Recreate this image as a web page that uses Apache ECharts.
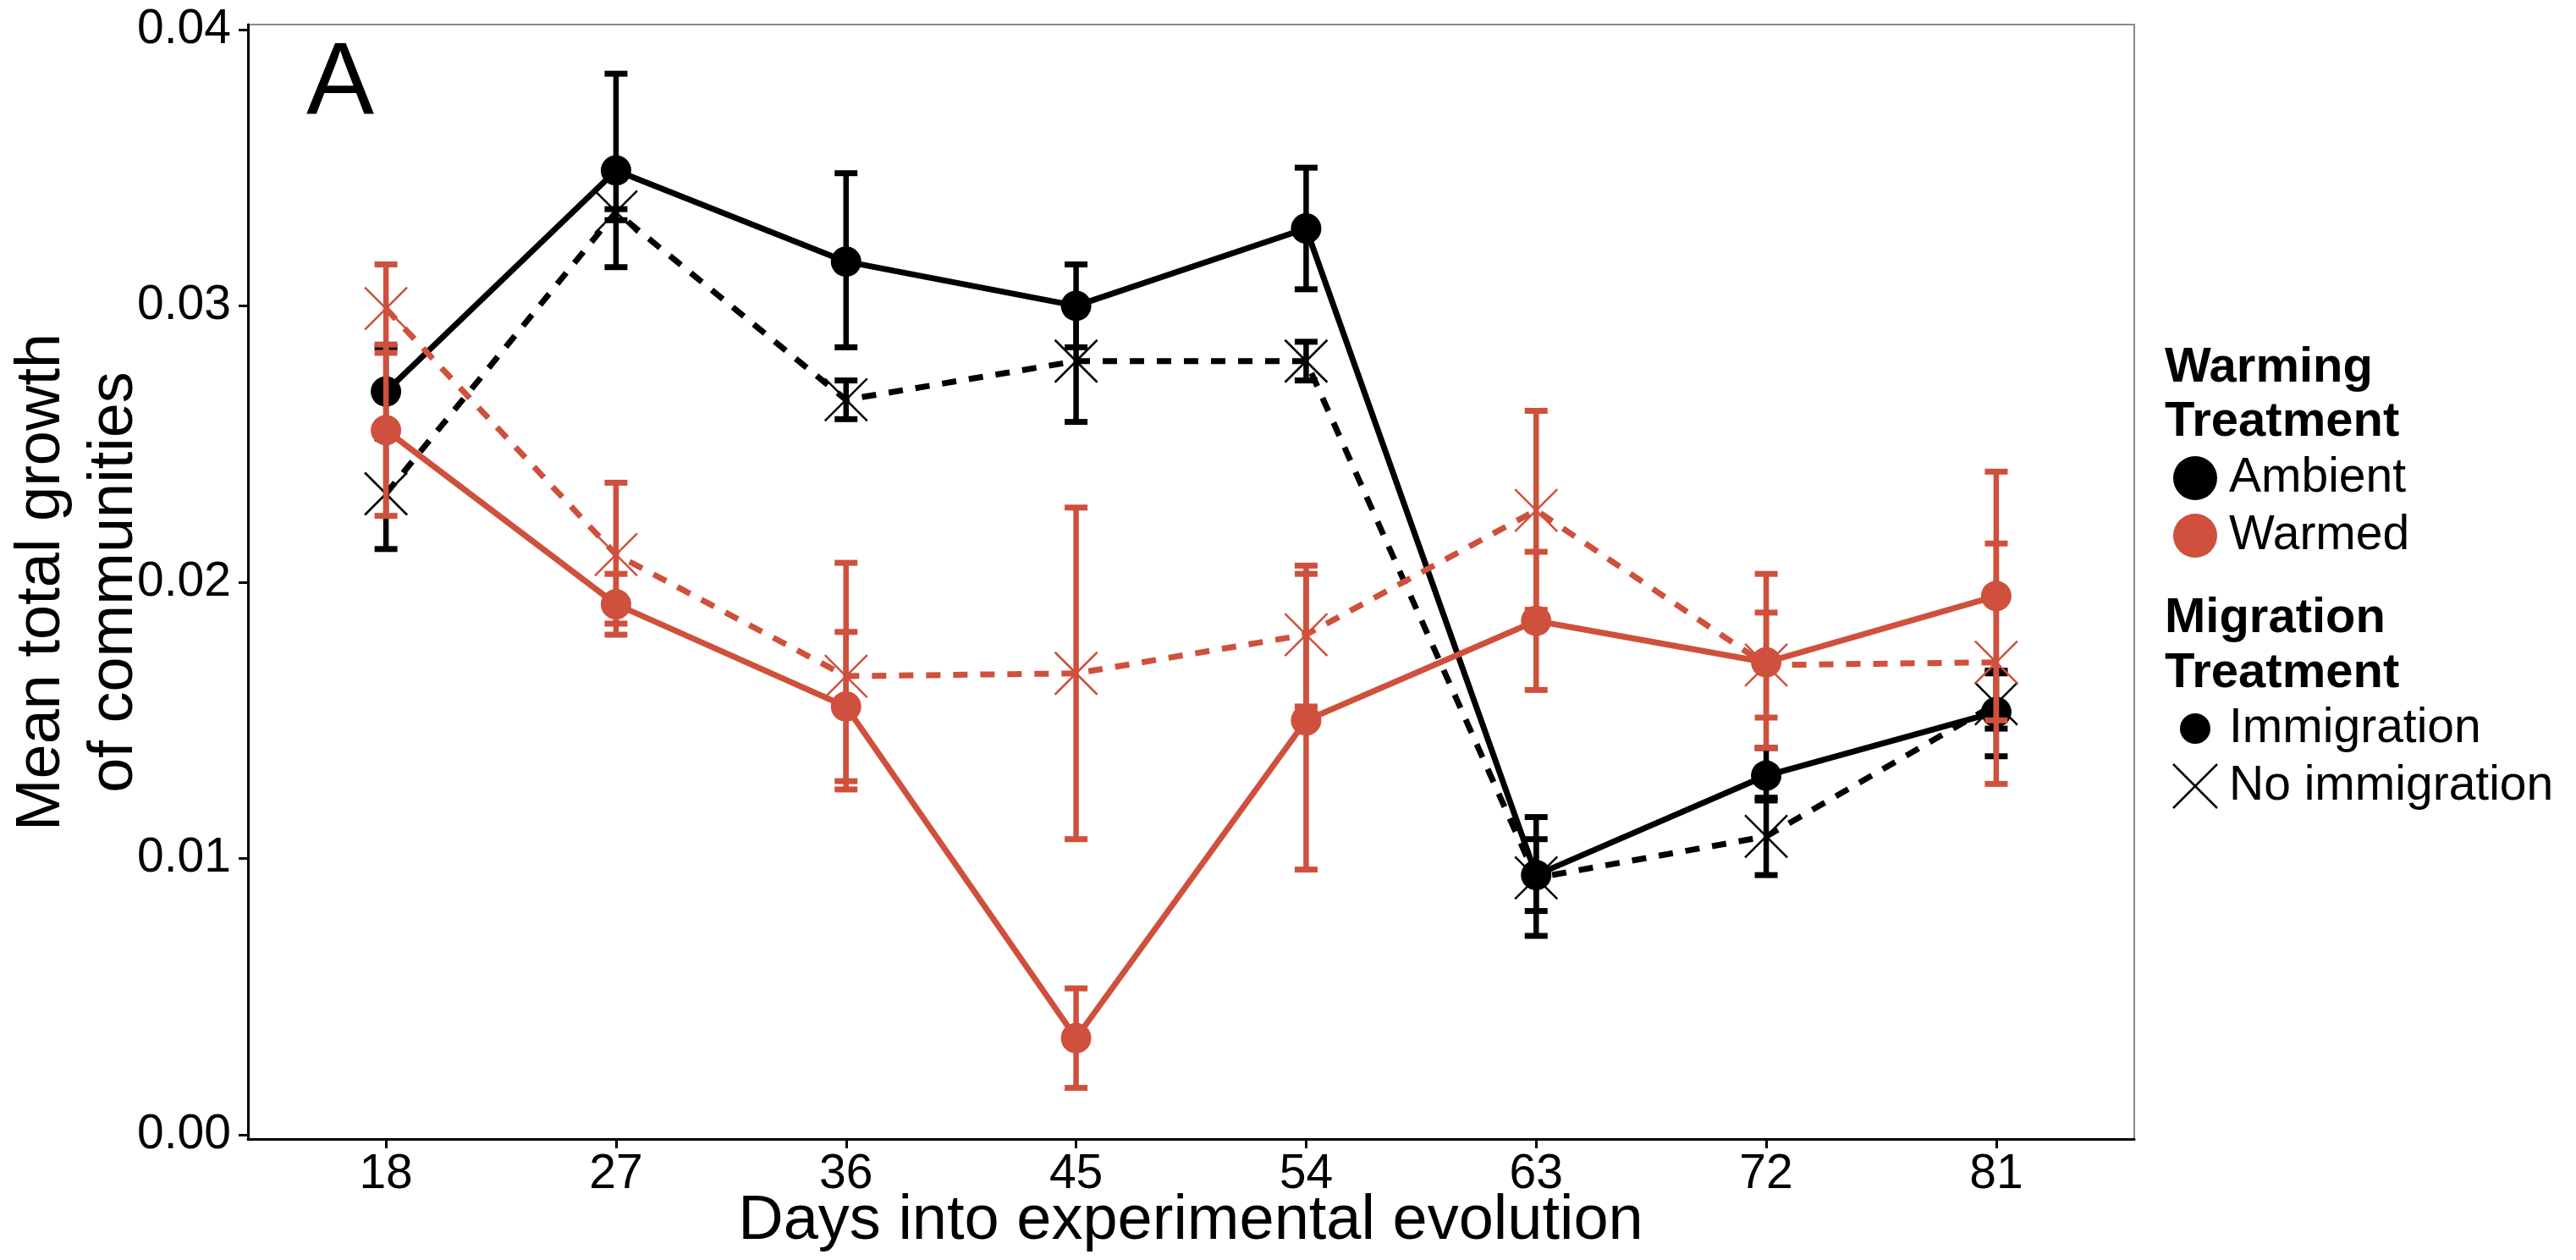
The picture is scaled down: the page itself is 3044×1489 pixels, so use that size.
<!DOCTYPE html>
<html>
<head>
<meta charset="utf-8">
<script src="https://cdn.jsdelivr.net/npm/echarts@6/dist/echarts.min.js"></script>
<style>
  html, body { margin: 0; padding: 0; background: #fff; }
  #chart { width: 3044px; height: 1489px; }
</style>
</head>
<body>
<div id="chart"></div>
<script>
// days on the x axis
const days = [18, 27, 36, 45, 54, 63, 72, 81];
const yTicks = [0, 0.01, 0.02, 0.03, 0.04];

// Ambient, immigration (black, solid, circles)
const ambImm   = [0.0269, 0.0349, 0.0316, 0.0300, 0.0328, 0.0094, 0.0130, 0.0153];
const ambImmLo = [0.0253, 0.0314, 0.0285, 0.0285, 0.0306, 0.0072, 0.0121, 0.0137];
const ambImmHi = [0.0285, 0.0384, 0.0348, 0.0315, 0.0350, 0.0115, 0.0140, 0.0168];
// Ambient, no immigration (black, dashed, crosses)
const ambNo    = [0.0232, 0.0334, 0.0266, 0.0280, 0.0280, 0.0093, 0.0108, 0.0156];
const ambNoLo  = [0.0212, 0.0331, 0.0259, 0.0258, 0.0273, 0.0081, 0.0094, 0.0147];
const ambNoHi  = [0.0252, 0.0335, 0.0273, 0.0302, 0.0287, 0.0107, 0.0122, 0.0167];
// Warmed, immigration (red, solid, circles)
const warmImm   = [0.0255, 0.0192, 0.0155, 0.0035, 0.0150, 0.0186, 0.0171, 0.0195];
const warmImmLo = [0.0224, 0.0181, 0.0128, 0.0017, 0.0096, 0.0161, 0.0151, 0.0150];
const warmImmHi = [0.0286, 0.0203, 0.0182, 0.0053, 0.0203, 0.0211, 0.0189, 0.0240];
// Warmed, no immigration (red, dashed, crosses)
const warmNo    = [0.0299, 0.0210, 0.0166, 0.0167, 0.0181, 0.0226, 0.0170, 0.0171];
const warmNoLo  = [0.0283, 0.0185, 0.0125, 0.0107, 0.0155, 0.0190, 0.0140, 0.0127];
const warmNoHi  = [0.0315, 0.0236, 0.0207, 0.0227, 0.0206, 0.0262, 0.0203, 0.0214];

const BLACK = '#000000';
const RED = '#CF503C';
const FONT = '"Liberation Sans", Arial, sans-serif';

function lineSeries(name, color, vals, dashed, z) {
  return {
    type: 'line', name: name, z: z,
    data: days.map((d, i) => [d, vals[i]]),
    showSymbol: false, symbol: 'none',
    lineStyle: { color: color, width: 7, type: dashed ? [17, 15] : 'solid', cap: 'butt' },
    animation: false
  };
}

function errSeries(name, color, lo, hi, z) {
  return {
    type: 'custom', name: name, z: z,
    data: days.map((d, i) => [d, lo[i], hi[i]]),
    encode: { x: 0, y: [1, 2] },
    renderItem: function (params, api) {
      const x = api.value(0);
      const a = api.coord([x, api.value(1)]);
      const b = api.coord([x, api.value(2)]);
      const w = 13.5;
      const st = { stroke: color, lineWidth: 6.5, lineCap: 'butt' };
      return {
        type: 'group',
        children: [
          { type: 'line', shape: { x1: a[0], y1: a[1], x2: b[0], y2: b[1] }, style: st },
          { type: 'line', shape: { x1: a[0] - w, y1: a[1], x2: a[0] + w, y2: a[1] }, style: { stroke: color, lineWidth: 7 } },
          { type: 'line', shape: { x1: b[0] - w, y1: b[1], x2: b[0] + w, y2: b[1] }, style: { stroke: color, lineWidth: 7 } }
        ]
      };
    },
    animation: false
  };
}

function pointSeries(name, color, vals, cross, z) {
  return {
    type: 'custom', name: name, z: z,
    data: days.map((d, i) => [d, vals[i]]),
    encode: { x: 0, y: 1 },
    renderItem: function (params, api) {
      const p = api.coord([api.value(0), api.value(1)]);
      if (cross) {
        const h = 25;
        const st = { stroke: color, lineWidth: 2.5 };
        return {
          type: 'group',
          children: [
            { type: 'line', shape: { x1: p[0] - h, y1: p[1] - h, x2: p[0] + h, y2: p[1] + h }, style: st },
            { type: 'line', shape: { x1: p[0] - h, y1: p[1] + h, x2: p[0] + h, y2: p[1] - h }, style: st }
          ]
        };
      }
      return { type: 'circle', shape: { cx: p[0], cy: p[1], r: 18 }, style: { fill: color } };
    },
    animation: false
  };
}

function txt(x, y, text, font) {
  return { type: 'text', x: x, y: y, style: { text: text, font: font, fill: '#000', verticalAlign: 'middle' } };
}

const chart = echarts.init(document.getElementById('chart'), null, { renderer: 'canvas' });

const TITLE_FONT = 'bold 58px ' + FONT;
const ITEM_FONT = '57px ' + FONT;
const legendGraphics = [
  txt(2558, 435, 'Warming', TITLE_FONT),
  txt(2558, 499, 'Treatment', TITLE_FONT),
  { type: 'circle', shape: { cx: 2594, cy: 565, r: 26 }, style: { fill: BLACK } },
  txt(2634, 565, 'Ambient', ITEM_FONT),
  { type: 'circle', shape: { cx: 2594, cy: 633, r: 26 }, style: { fill: RED } },
  txt(2634, 633, 'Warmed', ITEM_FONT),
  txt(2558, 731, 'Migration', TITLE_FONT),
  txt(2558, 796, 'Treatment', TITLE_FONT),
  { type: 'circle', shape: { cx: 2594, cy: 861, r: 18 }, style: { fill: BLACK } },
  txt(2634, 861, 'Immigration', ITEM_FONT),
  { type: 'line', shape: { x1: 2568, y1: 903, x2: 2620, y2: 955 }, style: { stroke: BLACK, lineWidth: 2.5 } },
  { type: 'line', shape: { x1: 2568, y1: 955, x2: 2620, y2: 903 }, style: { stroke: BLACK, lineWidth: 2.5 } },
  txt(2634, 929, 'No immigration', ITEM_FONT)
];

const option = {
  backgroundColor: '#fff',
  animation: false,
  grid: {
    left: 293, top: 29, right: 522, bottom: 143,
    show: true, borderColor: '#8a8a8a', borderWidth: 2, backgroundColor: 'transparent'
  },
  xAxis: {
    type: 'value', min: 12.6, max: 86.4,
    axisLine: { show: true, onZero: false, lineStyle: { color: '#000', width: 3 } },
    axisTick: { show: true, customValues: days, length: 11, lineStyle: { color: '#000', width: 3 } },
    axisLabel: { customValues: days, color: '#000', fontSize: 57, fontFamily: FONT, margin: 14 },
    splitLine: { show: false }
  },
  yAxis: {
    type: 'value', min: -0.00015, max: 0.04018,
    axisLine: { show: true, onZero: false, lineStyle: { color: '#000', width: 3 } },
    axisTick: { show: true, customValues: yTicks, length: 11, lineStyle: { color: '#000', width: 3 } },
    axisLabel: {
      customValues: yTicks, color: '#000', fontSize: 57, fontFamily: FONT, margin: 20,
      formatter: v => v.toFixed(2)
    },
    splitLine: { show: false }
  },
  graphic: [
    txt(362, 101, 'A', '120px ' + FONT),
    { type: 'text', x: 1407, y: 1444, style: { text: 'Days into experimental evolution', font: '74px ' + FONT, fill: '#000', align: 'center', verticalAlign: 'middle' } },
    { type: 'text', x: 93, y: 688, rotation: Math.PI / 2,
      style: { text: 'Mean total growth\nof communities', font: '74px ' + FONT, lineHeight: 86, fill: '#000', align: 'center', verticalAlign: 'middle' } }
  ].concat(legendGraphics),
  series: [
    lineSeries('Ambient Immigration', BLACK, ambImm, false, 2),
    lineSeries('Ambient No immigration', BLACK, ambNo, true, 2),
    pointSeries('Ambient Immigration pts', BLACK, ambImm, false, 3),
    pointSeries('Ambient No immigration pts', BLACK, ambNo, true, 3),
    errSeries('Ambient Immigration err', BLACK, ambImmLo, ambImmHi, 4),
    errSeries('Ambient No immigration err', BLACK, ambNoLo, ambNoHi, 4),
    lineSeries('Warmed Immigration', RED, warmImm, false, 5),
    lineSeries('Warmed No immigration', RED, warmNo, true, 5),
    pointSeries('Warmed Immigration pts', RED, warmImm, false, 6),
    pointSeries('Warmed No immigration pts', RED, warmNo, true, 6),
    errSeries('Warmed Immigration err', RED, warmImmLo, warmImmHi, 7),
    errSeries('Warmed No immigration err', RED, warmNoLo, warmNoHi, 7)
  ]
};

chart.setOption(option);
</script>
</body>
</html>
